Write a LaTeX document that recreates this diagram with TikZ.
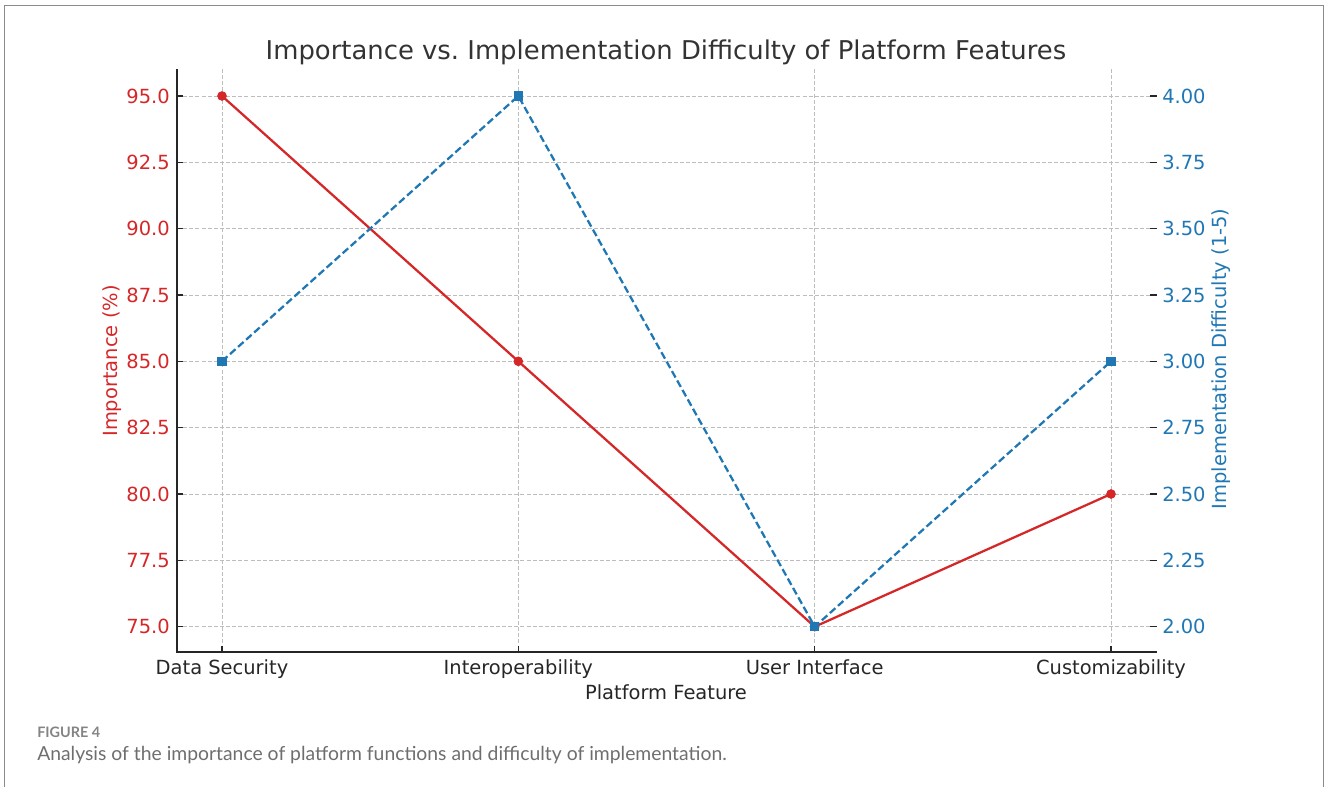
\documentclass[tikz,border=0pt]{standalone}
\usepackage{fontspec}
\setmainfont{DejaVu Sans}
\newfontfamily\capfont{Lato}
\frenchspacing
\definecolor{tred}{HTML}{D62728}
\definecolor{tblue}{HTML}{1F77B4}
\definecolor{gridc}{HTML}{BDBDBD}
\definecolor{titlec}{HTML}{333333}
\definecolor{capc}{HTML}{6E6E6E}
\definecolor{framec}{HTML}{8A8A8A}
\tikzset{
  gridline/.style={draw=gridc, line width=0.7pt, dash pattern=on 3pt off 1.6pt},
  spine/.style={draw=black!85, line width=1.2pt},
  tickmark/.style={draw=black!85, line width=1pt},
  redline/.style={draw=tred, line width=1.7pt},
  blueline/.style={draw=tblue, line width=1.7pt, dash pattern=on 5.5pt off 2.6pt},
  reddot/.style={circle, fill=tred, inner sep=0pt, minimum size=7pt},
  bluesq/.style={rectangle, fill=tblue, inner sep=0pt, minimum size=6.8pt},
  ticklab/.style={font=\fontsize{14.6}{17}\selectfont, inner sep=0pt},
  axlab/.style={font=\fontsize{14.6}{17}\selectfont, inner sep=0pt},
}
\begin{document}
\begin{tikzpicture}[x=0.75pt,y=-0.75pt]
\useasboundingbox (0,0) rectangle (1328,787);
% outer frame
\draw[draw=framec, line width=1.4pt] (4.5,787) -- (4.5,5.5) -- (1323.5,5.5) -- (1323.5,787);
% title
\node[font=\fontsize{19.4}{23}\selectfont, text=titlec, anchor=base, inner sep=0pt] (title) at (666,60) {Importance vs.\ Implementation Difficulty of Platform Features};
% grid
\foreach \yy in {96,162.3,228.7,295,361.3,427.6,494,560.3,626.7}
  \draw[gridline] (177,\yy) -- (1157,\yy);
\foreach \xx in {222,518.3,814.7,1111}
  \draw[gridline] (\xx,69) -- (\xx,652);
% spines
\coordinate (ax0) at (177,69);
\coordinate (ax1) at (177,652);
\coordinate (ax2) at (1157,652);
\draw[spine] (ax0) -- (ax1) -- (ax2);
% left ticks and labels
\foreach \yy/\lab in {96/95.0,162.3/92.5,228.7/90.0,295/87.5,361.3/85.0,427.6/82.5,494/80.0,560.3/77.5,626.7/75.0}{
  \draw[tickmark] (177,\yy) -- (183,\yy);
  \node[ticklab, text=tred, anchor=east] at (170,\yy) {\lab};
}
% right ticks and labels
\foreach \yy/\lab in {96/4.00,162.3/3.75,228.7/3.50,295/3.25,361.3/3.00,427.6/2.75,494/2.50,560.3/2.25,626.7/2.00}{
  \draw[tickmark] (1150,\yy) -- (1157,\yy);
  \node[ticklab, text=tblue, anchor=west] at (1162,\yy) {\lab};
}
% x ticks and labels
\foreach \xx/\lab in {222/Data Security,518.3/Interoperability,814.7/User Interface,1111/Customizability}{
  \draw[tickmark] (\xx,652) -- (\xx,646);
  \node[ticklab, text=black!85, anchor=base] at (\xx,674) {\lab};
}
% axis labels
\node[axlab, text=black!85, anchor=base] (xlab) at (666,699) {Platform Feature};
\node[axlab, text=tred, rotate=90] (ylab) at (112,361) {Importance (\%)};
\node[axlab, text=tblue, rotate=90] (y2lab) at (1221,359) {Implementation Difficulty (1-5)};
% importance series
\node[reddot] (i1) at (222,96) {};
\node[reddot] (i2) at (518.3,361.3) {};
\node[reddot] (i3) at (814.7,626.7) {};
\node[reddot] (i4) at (1111,494) {};
\draw[redline] (i1.center) -- (i2.center) -- (i3.center) -- (i4.center);
\foreach \n in {i1,i2,i3,i4} \node[reddot] at (\n) {};
% difficulty series
\node[bluesq] (d1) at (222,361.3) {};
\node[bluesq] (d2) at (518.3,96) {};
\node[bluesq] (d3) at (814.7,626.7) {};
\node[bluesq] (d4) at (1111,361.3) {};
\draw[blueline] (d1.center) -- (d2.center) -- (d3.center) -- (d4.center);
\foreach \n in {d1,d2,d3,d4} \node[bluesq] at (\n) {};
% caption
\node[font=\capfont\bfseries\fontsize{10.8}{12}\selectfont, text=capc!85, anchor=base west, inner sep=0pt] (fig) at (37,737) {FIGURE 4};
\node[font=\capfont\fontsize{14.5}{17}\selectfont, text=capc, anchor=base west, inner sep=0pt] (cap) at (37,760.5) {Analysis of the importance of platform functions and difficulty of implementation.};
\end{tikzpicture}
\end{document}
